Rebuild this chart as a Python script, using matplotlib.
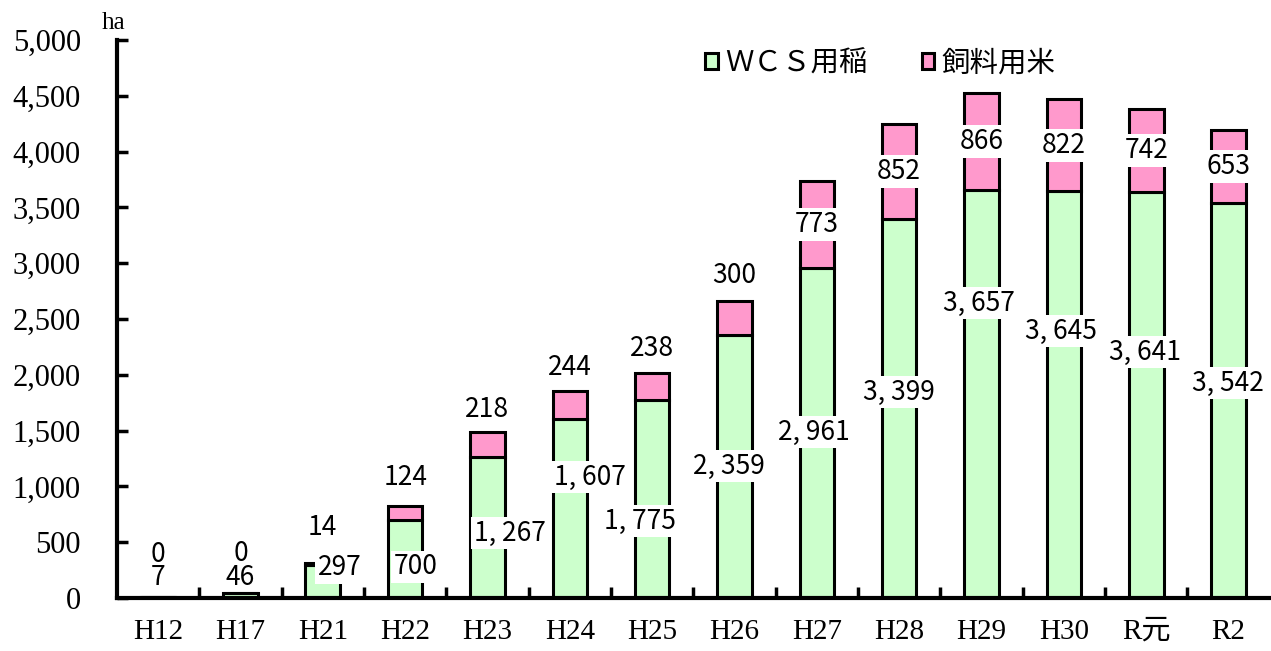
import matplotlib.pyplot as plt
import numpy as np

categories = ['H12', 'H17', 'H21', 'H22', 'H23', 'H24', 'H25', 'H26', 'H27',
              'H28', 'H29', 'H30', 'R元', 'R2']
wcs = [7, 46, 297, 700, 1267, 1607, 1775, 2359, 2961, 3399, 3657, 3645, 3641, 3542]
feed_rice = [0, 0, 14, 124, 218, 244, 238, 300, 773, 852, 866, 822, 742, 653]

# label anchors (ha) and sideways nudges (category units)
wcs_label_y = [188, 197, 269, 278, 582, 1084, 690, 1183, 1487, 1846, 2643, 2392, 2204, 1927]
wcs_label_dx = [0, 0, 0.21, 0.13, 0.27, 0.24, -0.15, -0.07, -0.03, 0, -0.03, -0.04, -0.01, -0.01]
feed_label_y = [385, 385, 636, 1084, 1685, 2061, 2240, 2894, None, None, None, None, None, None]

green = '#ccffcc'
pink = '#ff99cc'
jp = ['Noto Sans CJK JP', 'DejaVu Sans']
serif = 'Liberation Serif'

fig = plt.figure(figsize=(12.71, 6.51), dpi=100)
ax = fig.add_axes([0.092, 0.0814, 0.907, 0.8572])

x = np.arange(len(categories))
w = 0.42
ax.bar(x, wcs, w, color=green, edgecolor='black', linewidth=2.2, label='ＷＣＳ用稲')
ax.bar(x, feed_rice, w, bottom=wcs, color=pink, edgecolor='black', linewidth=2.2,
       label='飼料用米')

box = dict(facecolor='white', edgecolor='none', pad=2)
for i in range(len(categories)):
    wcs_txt = f'{wcs[i]:,}'.replace(',', ', ')
    fy = feed_label_y[i]
    if fy is not None and fy - wcs_label_y[i] < 250:
        # the two tiny values sit stacked right on top of each other
        ax.text(x[i], (fy + wcs_label_y[i]) / 2, f'{feed_rice[i]}\n{wcs_txt}',
                ha='center', va='center', fontsize=19, family=jp, linespacing=0.85)
        continue
    if fy is None:
        # big enough: label sits in the middle of the pink segment
        ax.text(x[i], wcs[i] + feed_rice[i] / 2, f'{feed_rice[i]:,}', ha='center',
                va='center', fontsize=19, family=jp, bbox=box)
    else:
        ax.text(x[i], fy, f'{feed_rice[i]:,}', ha='center', va='center',
                fontsize=19, family=jp)
    ax.text(x[i] + wcs_label_dx[i], wcs_label_y[i], wcs_txt, ha='center',
            va='center', fontsize=19, family=jp, bbox=box if wcs[i] > 200 else None)

ax.set_xlim(-0.5, len(categories) - 0.5)
ax.set_ylim(0, 5000)
ax.set_yticks(np.arange(0, 5001, 500))
ax.set_yticklabels([f'{v:,}' for v in range(0, 5001, 500)], fontsize=22,
                   family=serif)
ax.tick_params(axis='y', direction='in', length=8, width=2.5, pad=26)

ax.set_xticks(x)
ax.set_xticklabels(categories, fontsize=21, family=[serif, 'Noto Sans CJK JP'])
ax.tick_params(axis='x', length=0, pad=15)
ax.set_xticks(np.arange(0.5, len(categories) - 0.5), minor=True)
ax.tick_params(axis='x', which='minor', direction='in', length=8, width=2.5)

for s in ['top', 'right']:
    ax.spines[s].set_visible(False)
ax.spines['left'].set_linewidth(3)
ax.spines['bottom'].set_linewidth(3)

fig.text(0.080, 0.965, 'ha', fontsize=18, family=serif, ha='left', va='center')

fig.legend(loc='center left', bbox_to_anchor=(705 / 1271, 0.903), ncol=2,
           frameon=False, prop={'family': jp, 'size': 20.5}, borderpad=0,
           borderaxespad=0, handlelength=0.45, handleheight=0.45,
           handletextpad=0.25, columnspacing=1.9)

fig.savefig('out.png', dpi=100)
